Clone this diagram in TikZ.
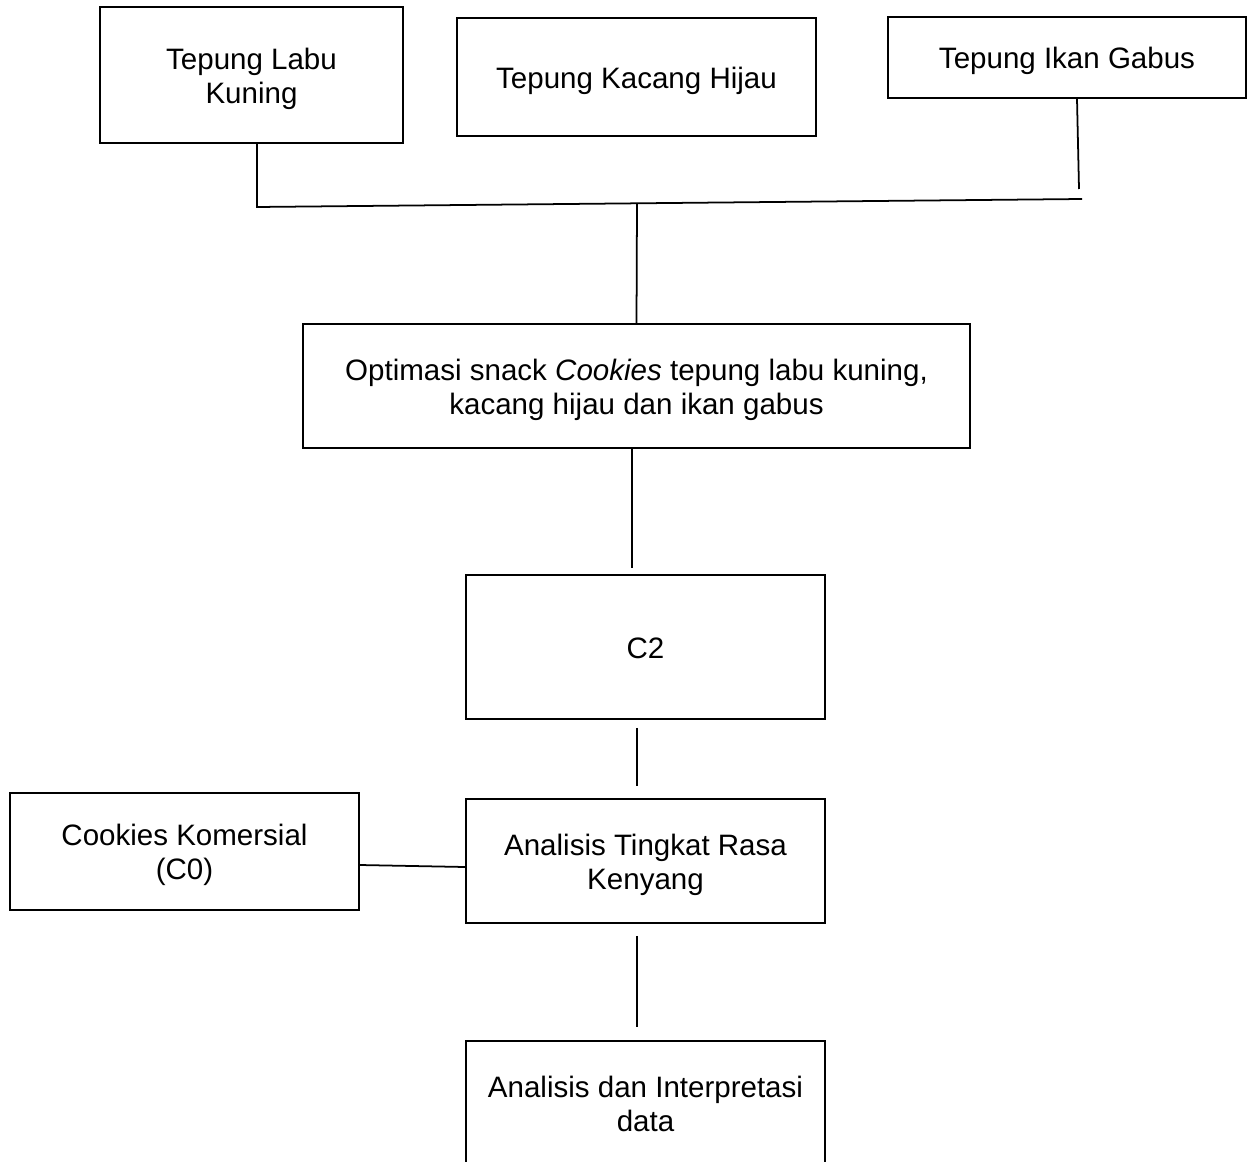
\documentclass[tikz,border=0pt]{standalone}
\usepackage{fontspec}
\setmainfont{Liberation Sans}
\usepackage{tikz}
\newcommand{\boxlines}[1]{\begin{tabular}{@{}c@{}}\rule{0pt}{18.7pt}#1\end{tabular}}

\begin{document}
\begin{tikzpicture}[box/.style={draw,line width=1pt,inner sep=2pt,
    font=\fontsize{16.8}{19.4}\selectfont},
  link/.style={line width=1pt}]
  \clip (0,0) rectangle (25,-23.24);
   \coordinate (JoinL) at (5.14,-4.14);
   \coordinate (JoinR) at (21.64,-3.98);
   \coordinate (JoinM) at (12.74,-4.08);
   \coordinate (IkanEnd) at (21.58,-3.78);
  \node[box,minimum width=6.06cm,minimum height=2.72cm] (labu) at (5.03,-1.5) {\boxlines{Tepung Labu\\Kuning}};
  \node[box,minimum width=7.18cm,minimum height=2.36cm] (kacang) at (12.73,-1.54) {\boxlines{Tepung Kacang Hijau}};
  \node[box,minimum width=7.16cm,minimum height=1.62cm] (ikan) at (21.34,-1.15) {\boxlines{Tepung Ikan Gabus}};
  \node[box,minimum width=13.34cm,minimum height=2.48cm] (opt) at (12.73,-7.72)
     {\boxlines{Optimasi snack \textit{Cookies} tepung labu kuning,\\kacang hijau dan ikan gabus}};
  \node[box,minimum width=7.18cm,minimum height=2.88cm] (c2) at (12.91,-12.94) {\boxlines{C2}};
  \node[box,minimum width=7.18cm,minimum height=2.48cm] (rasa) at (12.91,-17.22) {\boxlines{Analisis Tingkat Rasa\\Kenyang}};
  \node[box,minimum width=6.98cm,minimum height=2.34cm] (komersial) at (3.69,-17.03) {\boxlines{Cookies Komersial\\(C0)}};
  \node[box,minimum width=7.18cm,minimum height=2.48cm] (data) at (12.91,-22.06) {\boxlines{Analisis dan Interpretasi\\data}};
%     three flours join into one line
  \draw[link] (labu.south -| JoinL) -- (JoinL) -- (JoinR);
  \draw[link] ([xshift=0.2cm]ikan.south) -- (IkanEnd);
  \draw[link] (JoinM) -- (opt.north);
  \draw[link] ([xshift=-0.09cm]opt.south) -- ([xshift=-0.27cm,yshift=0.12cm]c2.north);
  \draw[link] ([xshift=-0.17cm,yshift=-0.16cm]c2.south) -- ([xshift=-0.17cm,yshift=0.24cm]rasa.north);
  \draw[link] ([yshift=-0.27cm]komersial.east) -- ([yshift=-0.12cm]rasa.west);
  \draw[link] ([xshift=-0.17cm,yshift=-0.24cm]rasa.south) -- ([xshift=-0.17cm,yshift=0.26cm]data.north);
 \end{tikzpicture}
\end{document}
